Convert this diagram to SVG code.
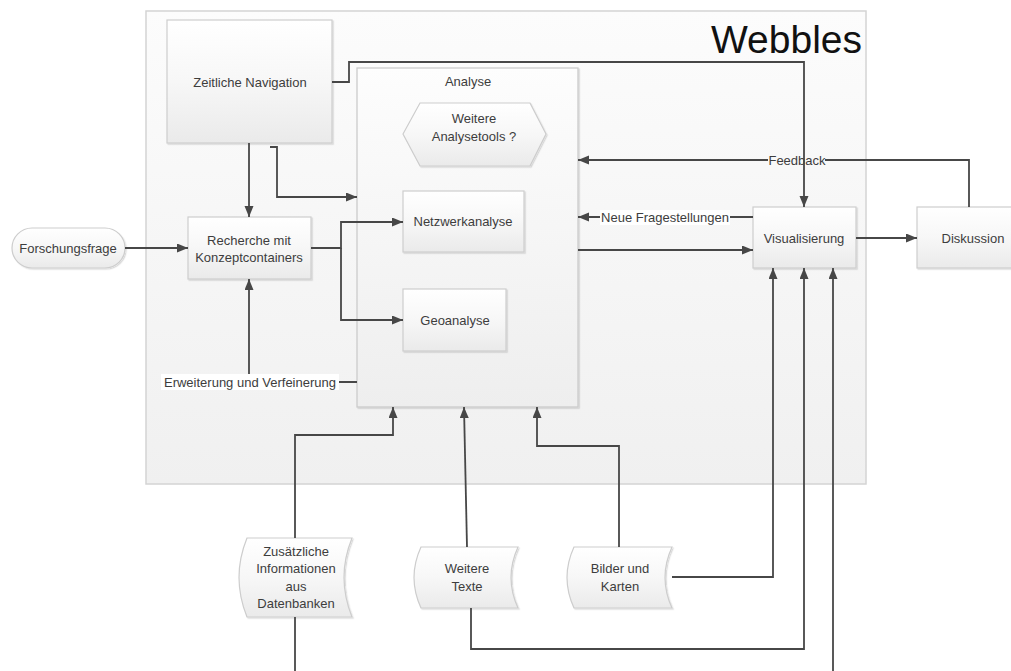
<svg xmlns="http://www.w3.org/2000/svg" width="1011" height="671" viewBox="0 0 1011 671">
<defs>
<linearGradient id="gBox" x1="0" y1="0" x2="0" y2="1">
<stop offset="0" stop-color="#ffffff"/>
<stop offset="0.5" stop-color="#f7f7f7"/>
<stop offset="1" stop-color="#eaeaea"/>
</linearGradient>
<linearGradient id="gCont" x1="0" y1="0" x2="0" y2="1">
<stop offset="0" stop-color="#fcfcfc"/>
<stop offset="1" stop-color="#f0f0f0"/>
</linearGradient>
<linearGradient id="gAn" x1="0" y1="0" x2="0" y2="1">
<stop offset="0" stop-color="#fdfdfd"/>
<stop offset="1" stop-color="#eeeeee"/>
</linearGradient>
<filter id="sh" x="-10%" y="-10%" width="130%" height="130%">
<feDropShadow dx="1.2" dy="1.2" stdDeviation="0.7" flood-color="#000" flood-opacity="0.14"/>
</filter>
<marker id="arr" markerUnits="userSpaceOnUse" markerWidth="12" markerHeight="10" refX="11" refY="4.5" orient="auto">
<path d="M0,0 L11,4.5 L0,9 Z" fill="#474747"/>
</marker>
</defs>
<style>
.box{fill:url(#gBox);stroke:#cdcdcd;stroke-width:1.2;filter:url(#sh)}
.t{font-family:"Liberation Sans",Arial,sans-serif;font-size:13px;fill:#3d3d3d;text-anchor:middle}
.c{fill:none;stroke:#474747;stroke-width:1.8}
.a{marker-end:url(#arr)}
.lbg{fill:#ffffff}
</style>
<rect width="1011" height="671" fill="#ffffff"/>

<g id="webbles">
<rect x="146" y="11" width="720" height="473" fill="url(#gCont)" stroke="#d4d4d4" stroke-width="1.5"/>
<text x="862" y="53" font-family="'Liberation Sans',Arial,sans-serif" font-size="39" fill="#111" text-anchor="end">Webbles</text>
</g>

<g id="analyse">
<rect x="357" y="68" width="221" height="339" fill="url(#gAn)" stroke="#cbcbcb" stroke-width="1.3" filter="url(#sh)"/>
<text class="t" x="468" y="85.5">Analyse</text>
</g>

<g id="zeitliche-navigation">
<rect class="box" x="167" y="20" width="165" height="123"/>
<text class="t" x="250" y="86.5">Zeitliche Navigation</text>
</g>

<g id="weitere-analysetools">
<polygon class="box" points="403,134 420,103 530,103 546,134 530,166 420,166"/>
<text class="t" x="474" y="122.5">Weitere</text>
<text class="t" x="474" y="140.5">Analysetools ?</text>
</g>

<g id="netzwerkanalyse">
<rect class="box" x="403" y="191" width="121" height="61"/>
<text class="t" x="463" y="225.5">Netzwerkanalyse</text>
</g>

<g id="geoanalyse">
<rect class="box" x="403" y="289" width="103" height="62"/>
<text class="t" x="455" y="324.5">Geoanalyse</text>
</g>

<g id="recherche">
<rect class="box" x="188" y="217" width="123" height="62"/>
<text class="t" x="249" y="244.5">Recherche mit</text>
<text class="t" x="249" y="261.5">Konzeptcontainers</text>
</g>

<g id="forschungsfrage">
<rect class="box" x="12" y="228" width="113" height="40" rx="20" ry="20"/>
<text class="t" x="68" y="252.5">Forschungsfrage</text>
</g>

<g id="visualisierung">
<rect class="box" x="753" y="207" width="103" height="61"/>
<text class="t" x="804" y="242.5">Visualisierung</text>
</g>

<g id="diskussion">
<rect class="box" x="917" y="207" width="96" height="61"/>
<text class="t" x="973" y="242.5">Diskussion</text>
</g>

<g id="zusaetzliche-informationen">
<path class="box" d="M247,538 L352,538 Q336,577.5 352,617 L247,617 Q231,577.5 247,538 Z"/>
<text class="t" x="296" y="556">Zusätzliche</text>
<text class="t" x="296" y="573">Informationen</text>
<text class="t" x="296" y="591">aus</text>
<text class="t" x="296" y="608">Datenbanken</text>
</g>

<g id="weitere-texte">
<path class="box" d="M421,547 L518,547 Q504,577.5 518,608 L421,608 Q407,577.5 421,547 Z"/>
<text class="t" x="467" y="572.5">Weitere</text>
<text class="t" x="467" y="590.5">Texte</text>
</g>

<g id="bilder-und-karten">
<path class="box" d="M574,547 L672,547 Q658,577.5 672,608 L574,608 Q560,577.5 574,547 Z"/>
<text class="t" x="620" y="572.5">Bilder und</text>
<text class="t" x="620" y="590.5">Karten</text>
</g>

<g id="connectors">
<path class="c a" d="M125,248 L188,248"/>
<path class="c a" d="M249,143 L249,217"/>
<path class="c a" d="M270,147 L277,147 L277,197 L357,197"/>
<path class="c a" d="M311,248 L341,248 L341,222 L403,222"/>
<path class="c a" d="M341,248 L341,320 L403,320"/>
<path class="c a" d="M357,382 L249,382 L249,279"/>
<rect class="lbg" x="161" y="374" width="178" height="16"/>
<text class="t" x="250" y="386.5">Erweiterung und Verfeinerung</text>
<path class="c a" d="M969,207 L969,160 L578,160"/>
<rect x="768" y="153" width="57" height="14" fill="#f8f8f8"/>
<text class="t" x="797" y="164.5">Feedback</text>
<path class="c a" d="M332,82 L349,82 L349,62 L804,62 L804,207"/>
<path class="c a" d="M753,217 L578,217"/>
<rect class="lbg" x="600" y="210" width="130" height="15"/>
<text class="t" x="665" y="221.5">Neue Fragestellungen</text>
<path class="c a" d="M578,250 L753,250"/>
<path class="c a" d="M856,238 L917,238"/>
<path class="c a" d="M672,577 L773,577 L773,268"/>
<path class="c a" d="M471,608 L471,649 L804,649 L804,268"/>
<path class="c a" d="M833,671 L833,268"/>
<path class="c a" d="M295,538 L295,435 L393,435 L393,407"/>
<path class="c a" d="M467,547 L464,407"/>
<path class="c a" d="M619,547 L619,446 L537,446 L537,407"/>
<path class="c" d="M295,617 L295,671"/>
</g>
</svg>
